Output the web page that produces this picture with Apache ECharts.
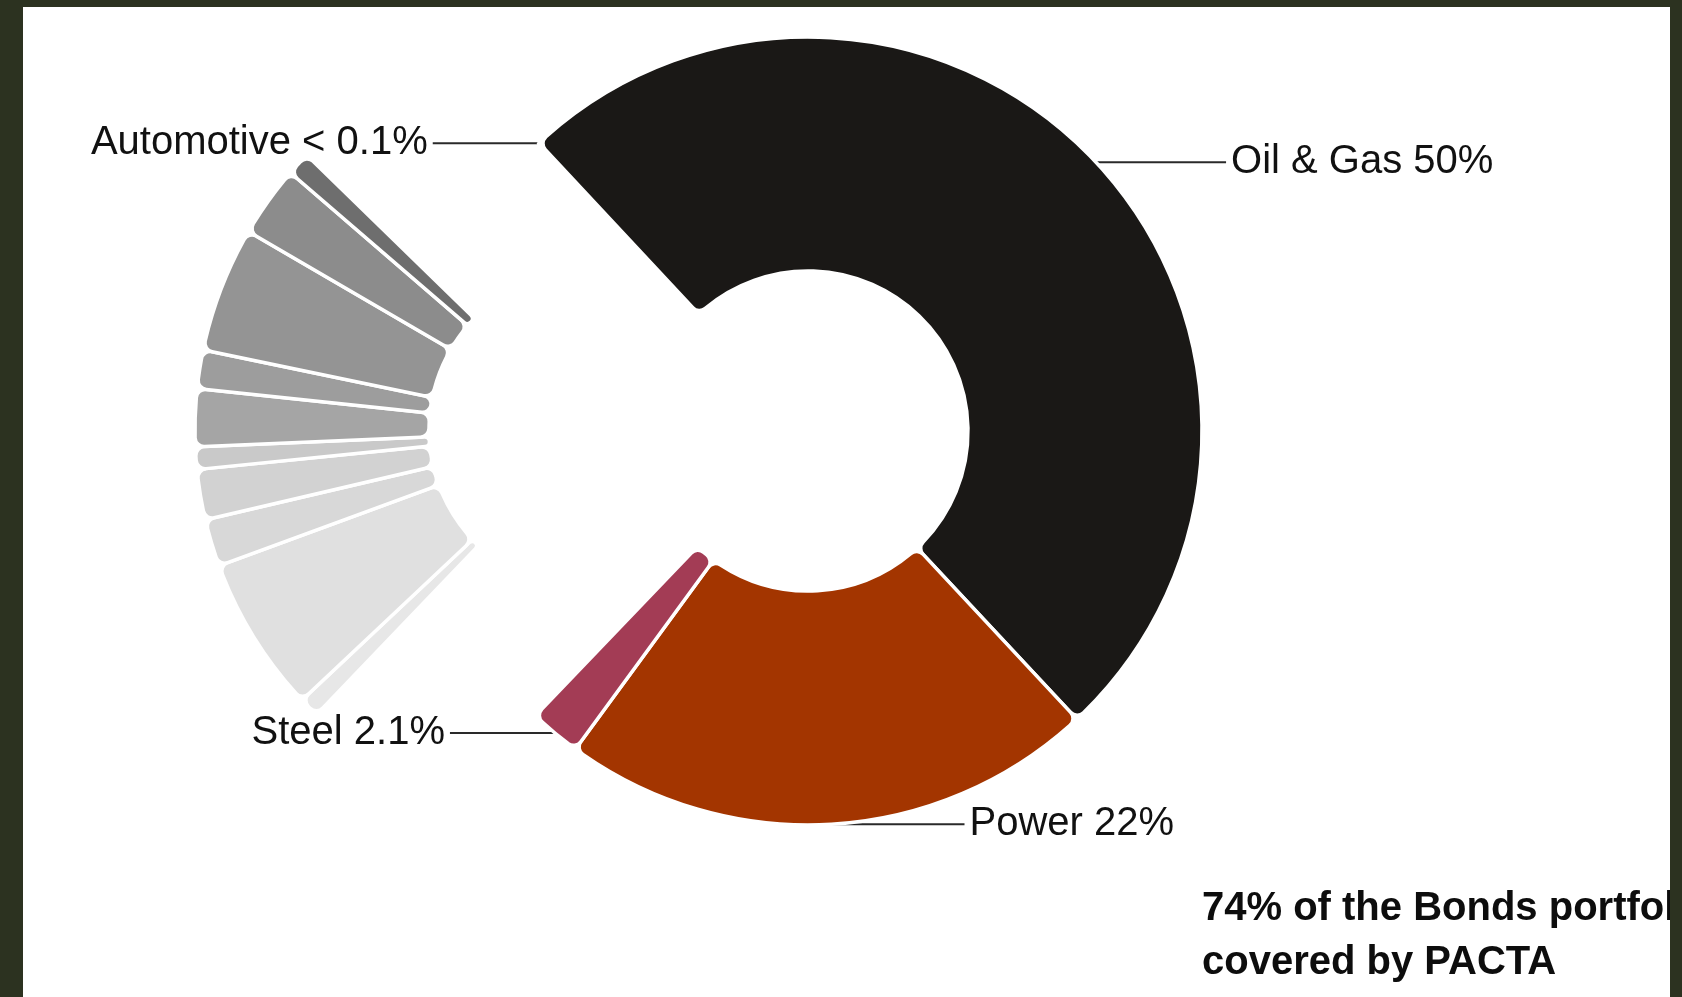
<!DOCTYPE html>
<html>
<head>
<meta charset="utf-8">
<title>PACTA sector coverage</title>
<script src="https://cdn.jsdelivr.net/npm/echarts@6/dist/echarts.min.js"></script>
<style>
  html, body { margin: 0; padding: 0; width: 1682px; height: 997px; overflow: hidden; background: #2c3220; }
  #chart { position: absolute; left: 23px; top: 7px; width: 1647px; height: 990px; background: #ffffff; }
</style>
</head>
<body>
<div id="chart"></div>
<script>
// PACTA sectors (share of the bonds portfolio, %)
const sectors = ['Automotive', 'Oil & Gas', 'Power', 'Steel'];
const sectorShares = [0.05, 50, 22, 2.1];
const sectorLabels = ['Automotive < 0.1%', 'Oil & Gas 50%', 'Power 22%', 'Steel 2.1%'];
const sectorColors = ['#7a7a7a', '#1a1816', '#a33500', '#a33c55'];
const sectorLineLengths = [106, 130, 133, 105];

// Remaining (non-PACTA) sectors, clockwise from the bottom of the grey fan (%)
const otherShares = [0.83, 6.42, 1.94, 2.06, 0.92, 2.36, 1.58, 5.14, 2.92, 0.97];
const otherColors = ['#e7e7e7', '#e0e0e0', '#d8d8d8', '#d2d2d2', '#c9c9c9',
                     '#a5a5a5', '#9d9d9d', '#949494', '#8c8c8c', '#6e6e6e'];

const coverageNote = '74% of the Bonds portfolio is\ncovered by PACTA';

const sum = arr => arr.reduce((a, b) => a + b, 0);
const coveredShare = sum(sectorShares);
const otherTotal = sum(otherShares);
const rest = Math.max(0, 100 - coveredShare - otherTotal);

const hidden = v => ({
  value: v,
  itemStyle: { color: 'rgba(0,0,0,0)', borderWidth: 0 },
  label: { show: false },
  labelLine: { show: false },
  emphasis: { disabled: true }
});

const mainData = sectors.map((name, i) => ({
  name,
  value: sectorShares[i],
  itemStyle: { color: sectorColors[i] },
  label: { formatter: sectorLabels[i] },
  labelLine: { length: 0, length2: sectorLineLengths[i] }
}));
mainData.push(hidden(100 - coveredShare));

const otherData = [hidden(coveredShare)];
otherShares.forEach((v, i) => otherData.push({
  value: v,
  itemStyle: { color: otherColors[i] }
}));
otherData.push(hidden(rest));

const START = 133.2;
const RADIUS = [160, 394];
const sliceStyle = { borderColor: '#ffffff', borderWidth: 3.5, borderRadius: 9 };
const font = '"Liberation Sans", Arial, Helvetica, sans-serif';

const chart = echarts.init(document.getElementById('chart'), null, { renderer: 'canvas' });
chart.setOption({
  animation: false,
  backgroundColor: '#ffffff',
  series: [
    {
      type: 'pie',
      center: [785, 424],
      radius: RADIUS,
      startAngle: START,
      clockwise: true,
      avoidLabelOverlap: false,
      silent: true,
      itemStyle: sliceStyle,
      label: {
        show: true,
        position: 'outside',
        color: '#111111',
        fontFamily: font,
        fontSize: 40,
        distanceToLabelLine: 5
      },
      labelLine: {
        show: true,
        length: 0,
        smooth: false,
        lineStyle: { color: '#2a2a2a', width: 2 }
      },
      emphasis: { disabled: true },
      data: mainData
    },
    {
      type: 'pie',
      center: [566, 423],
      radius: RADIUS,
      startAngle: START,
      clockwise: true,
      silent: true,
      itemStyle: sliceStyle,
      label: { show: false },
      labelLine: { show: false },
      emphasis: { disabled: true },
      data: otherData
    }
  ],
  graphic: [
    {
      type: 'text',
      left: 1179,
      top: 875,
      style: {
        text: coverageNote,
        font: 'bold 40px ' + font,
        fill: '#0d0d0d',
        lineHeight: 54
      }
    }
  ]
});
</script>
</body>
</html>
